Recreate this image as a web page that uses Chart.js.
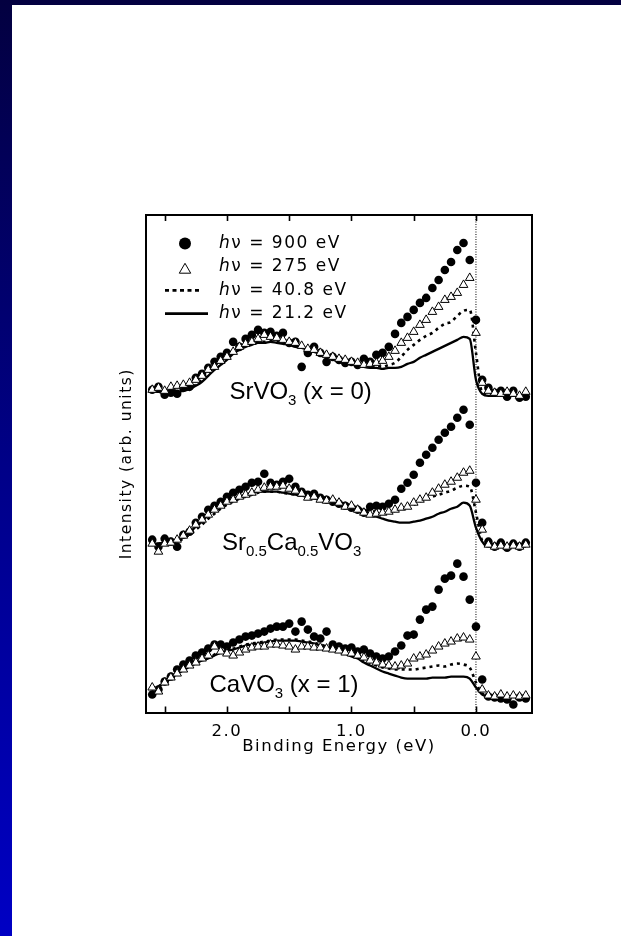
<!DOCTYPE html>
<html>
<head>
<meta charset="utf-8">
<script src="https://cdn.jsdelivr.net/npm/chart.js@4.4.1/dist/chart.umd.min.js"></script>
<style>
  html, body { margin: 0; padding: 0; }
  body {
    width: 621px; height: 936px; position: relative; overflow: hidden;
    background: linear-gradient(to bottom, #030040 0%, #000088 50%, #0000c4 100%);
  }
  #sheet { position: absolute; left: 12px; top: 5px; right: 0; bottom: 0; background: #fff; }
  #spectra { position: absolute; left: 0; top: 0; }
</style>
</head>
<body>
<div id="sheet"></div>
<canvas id="spectra" width="621" height="936"></canvas>
<script>
// binding energy grid (eV), shared by every spectrum
var energy = [
  2.60, 2.55, 2.50, 2.45, 2.40, 2.35, 2.30, 2.25, 2.20, 2.15,
  2.10, 2.05, 2.00, 1.95, 1.90, 1.85, 1.80, 1.75, 1.70, 1.65,
  1.60, 1.55, 1.50, 1.45, 1.40, 1.35, 1.30, 1.25, 1.20, 1.15,
  1.10, 1.05, 1.00, 0.95, 0.90, 0.85, 0.80, 0.75, 0.70, 0.65,
  0.60, 0.55, 0.50, 0.45, 0.40, 0.35, 0.30, 0.25, 0.20, 0.15,
  0.10, 0.05, 0.00, -0.05, -0.10, -0.15, -0.20, -0.25, -0.30, -0.35,
  -0.40
];

// SrVO3 (x = 0), offset already included
var sr_900 = [
  32.3, 32.6, 31.8, 32.0, 31.9, 32.5, 32.6, 33.5, 33.9, 34.5,
  35.1, 35.6, 36.0, 37.1, 36.6, 37.4, 37.8, 38.3, 38.0, 38.1,
  37.7, 38.0, 37.0, 37.1, 34.6, 36.0, 36.6, 36.0, 35.1, 35.6,
  35.3, 35.0, 35.1, 34.8, 35.4, 35.1, 35.8, 36.0, 36.6, 37.9,
  39.0, 39.6, 40.3, 41.0, 41.5, 42.5, 43.3, 44.3, 45.1, 46.3,
  47.0, 45.3, 39.3, 33.3, 32.5, 32.0, 32.2, 31.6, 32.2, 31.5,
  31.6
];
var sr_275 = [
  32.3, 32.5, 32.2, 32.6, 32.7, 32.8, 33.0, 33.3, 33.7, 34.3,
  34.6, 35.2, 35.6, 36.1, 36.6, 36.9, 37.1, 37.4, 37.8, 37.6,
  37.5, 37.3, 37.1, 37.0, 36.7, 36.4, 36.3, 36.0, 35.8, 35.6,
  35.4, 35.3, 35.1, 35.0, 34.8, 34.9, 35.0, 35.2, 35.6, 36.2,
  37.0, 37.5, 38.1, 38.8, 39.3, 40.1, 40.6, 41.3, 41.6, 42.0,
  42.8, 43.5, 38.0, 33.0, 32.2, 32.0, 31.9, 32.1, 31.9, 31.7,
  32.1
];
var sr_408 = [
  32.2, 32.2, 32.1, 32.2, 32.2, 32.3, 32.5, 32.8, 33.3, 33.9,
  34.5, 35.0, 35.5, 36.0, 36.4, 36.7, 36.9, 37.1, 37.1, 37.2,
  37.1, 37.0, 36.9, 36.7, 36.6, 36.4, 36.2, 36.0, 35.8, 35.6,
  35.4, 35.2, 35.0, 34.9, 34.8, 34.7, 34.7, 34.6, 34.8, 35.0,
  35.6, 36.3, 36.8, 37.3, 37.7, 38.0, 38.5, 38.9, 39.1, 39.7,
  40.2, 40.3, 36.0, 32.0, 31.8, 31.8, 31.8, 31.8, 31.8, 31.8,
  31.8
];
var sr_212 = [
  32.1, 32.1, 32.0, 32.1, 32.1, 32.2, 32.4, 32.7, 33.1, 33.7,
  34.3, 34.8, 35.3, 35.9, 36.3, 36.6, 36.8, 37.0, 37.0, 37.1,
  37.0, 36.9, 36.8, 36.6, 36.5, 36.3, 36.1, 35.9, 35.7, 35.5,
  35.3, 35.1, 34.9, 34.8, 34.6, 34.5, 34.5, 34.4, 34.5, 34.5,
  34.6, 34.9, 35.1, 35.5, 35.8, 36.1, 36.4, 36.7, 37.0, 37.3,
  37.6, 37.4, 33.3, 31.9, 31.7, 31.7, 31.7, 31.7, 31.7, 31.7,
  31.7
];

// Sr0.5Ca0.5VO3
var mix_900 = [
  17.3, 16.6, 17.4, 17.1, 16.6, 17.8, 18.1, 19.0, 19.6, 20.3,
  20.7, 21.1, 21.6, 22.0, 22.3, 22.6, 23.0, 23.1, 23.9, 23.0,
  22.8, 23.1, 23.4, 22.6, 22.1, 21.8, 21.9, 21.5, 21.3, 21.1,
  20.9, 20.7, 20.5, 20.3, 20.0, 20.6, 20.7, 20.6, 20.9, 21.3,
  22.4, 23.0, 23.8, 25.0, 25.8, 26.5, 27.3, 28.0, 28.6, 29.5,
  30.3, 28.8, 23.0, 19.0, 17.1, 16.6, 17.0, 16.5, 16.9, 16.6,
  17.0
];
var mix_275 = [
  16.9, 16.1, 16.9, 17.0, 17.3, 17.7, 18.2, 18.8, 19.3, 19.8,
  20.3, 20.7, 21.1, 21.3, 21.6, 21.8, 22.0, 22.3, 22.5, 22.6,
  22.6, 22.7, 22.4, 22.2, 21.9, 21.5, 21.6, 21.3, 21.2, 21.3,
  21.0, 20.6, 20.7, 20.3, 20.0, 19.8, 19.9, 20.0, 20.1, 20.3,
  20.5, 20.6, 21.0, 21.3, 21.5, 22.0, 22.4, 22.8, 23.1, 23.5,
  24.0, 24.2, 21.3, 18.3, 16.8, 16.6, 16.7, 16.6, 16.7, 16.6,
  16.8
];
var mix_408 = [
  16.9, 16.9, 17.0, 17.0, 17.1, 17.4, 17.8, 18.3, 18.8, 19.4,
  19.9, 20.4, 20.8, 21.1, 21.4, 21.6, 21.8, 22.0, 22.1, 22.1,
  22.1, 22.0, 21.9, 21.8, 21.7, 21.6, 21.5, 21.4, 21.3, 21.2,
  21.0, 20.9, 20.7, 20.5, 20.3, 20.2, 20.1, 20.0, 20.0, 20.2,
  20.4, 20.6, 20.8, 21.1, 21.4, 21.6, 21.8, 22.0, 22.2, 22.5,
  22.7, 22.6, 20.0, 17.2, 16.7, 16.6, 16.6, 16.6, 16.6, 16.6,
  16.6
];
var mix_212 = [
  16.9, 16.9, 17.0, 17.0, 17.2, 17.6, 18.0, 18.6, 19.1, 19.8,
  20.4, 20.8, 21.1, 21.4, 21.6, 21.8, 22.0, 22.1, 22.1, 22.1,
  22.1, 22.0, 21.9, 21.8, 21.7, 21.6, 21.4, 21.3, 21.2, 21.0,
  20.9, 20.7, 20.5, 20.3, 20.0, 19.7, 19.6, 19.4, 19.2, 19.1,
  19.0, 19.0, 19.1, 19.2, 19.4, 19.6, 19.9, 20.1, 20.4, 20.6,
  21.0, 20.7, 18.5, 17.1, 16.6, 16.6, 16.6, 16.6, 16.6, 16.6,
  16.6
];

// CaVO3 (x = 1)
var ca_900 = [
  1.8, 2.3, 3.1, 3.6, 4.3, 4.8, 5.2, 5.7, 6.0, 6.4,
  6.8, 6.8, 6.6, 7.0, 7.3, 7.6, 7.7, 7.9, 8.1, 8.4,
  8.6, 8.6, 8.9, 8.1, 9.1, 8.3, 7.6, 7.4, 8.1, 6.8,
  6.6, 6.4, 6.5, 6.1, 6.3, 5.9, 5.6, 5.4, 5.6, 6.1,
  6.7, 7.7, 7.8, 9.3, 10.3, 10.6, 12.3, 13.4, 13.7, 14.9,
  13.6, 11.3, 8.6, 3.3, 1.6, 1.5, 1.4, 1.3, 0.8, 1.5,
  1.4
];
var ca_275 = [
  2.5, 2.1, 3.0, 3.5, 3.9, 4.3, 4.7, 5.0, 5.4, 5.7,
  6.6, 6.1, 5.9, 5.7, 6.0, 6.3, 6.5, 6.6, 6.6, 6.8,
  6.8, 6.7, 6.6, 6.3, 6.6, 6.6, 6.5, 6.5, 6.4, 6.3,
  6.2, 6.0, 5.9, 5.7, 5.5, 5.2, 5.0, 4.8, 4.7, 4.6,
  4.7, 4.9, 5.4, 5.6, 5.8, 6.2, 6.6, 6.9, 7.1, 7.4,
  7.5, 7.3, 5.6, 2.3, 1.7, 1.6, 1.8, 1.6, 1.7, 1.6,
  1.7
];
var ca_408 = [
  2.3, 2.6, 3.0, 3.4, 3.9, 4.3, 4.7, 5.0, 5.3, 5.5,
  5.8, 6.1, 6.3, 6.4, 6.6, 6.8, 6.9, 7.0, 7.1, 7.2,
  7.3, 7.3, 7.3, 7.3, 7.2, 7.1, 7.0, 6.8, 6.6, 6.4,
  6.2, 6.0, 5.8, 5.6, 5.3, 5.0, 4.7, 4.5, 4.4, 4.3,
  4.3, 4.3, 4.3, 4.4, 4.5, 4.6, 4.7, 4.6, 4.8, 4.9,
  4.8, 4.5, 3.0, 1.9, 1.7, 1.6, 1.6, 1.6, 1.6, 1.6,
  1.6
];
var ca_212 = [
  2.3, 2.6, 3.0, 3.4, 3.9, 4.2, 4.6, 4.9, 5.2, 5.4,
  5.7, 6.0, 6.2, 6.3, 6.5, 6.7, 6.8, 6.9, 7.0, 7.1,
  7.2, 7.2, 7.2, 7.2, 7.1, 7.0, 6.9, 6.7, 6.5, 6.3,
  6.1, 5.9, 5.6, 5.4, 5.0, 4.7, 4.4, 4.1, 3.9, 3.7,
  3.5, 3.4, 3.4, 3.4, 3.4, 3.5, 3.5, 3.5, 3.6, 3.6,
  3.6, 3.4, 2.5, 1.8, 1.6, 1.6, 1.6, 1.6, 1.6, 1.6,
  1.6
];

var photonLabels = ['900 eV', '275 eV', '40.8 eV', '21.2 eV'];
var tickFont = { family: 'DejaVu Sans', size: 16.5, lineHeight: 1 };

function pts(vals) {
  return energy.map(function(e, i) { return { x: e, y: vals[i] }; });
}

var spectra = [
  [sr_900, sr_275, sr_408, sr_212],
  [mix_900, mix_275, mix_408, mix_212],
  [ca_900, ca_275, ca_408, ca_212]
];

var datasets = [];
spectra.forEach(function(s) {
  // 900 eV: filled circles
  datasets.push({
    data: pts(s[0]), showLine: false, order: 2,
    pointStyle: 'circle', pointRadius: 4.3, pointBorderWidth: 0,
    pointBackgroundColor: '#000'
  });
  // 275 eV: open triangles
  datasets.push({
    data: pts(s[1]), showLine: false, order: 1,
    pointStyle: 'triangle', pointRadius: 5, pointBorderWidth: 1,
    pointBorderColor: '#000', pointBackgroundColor: '#fff'
  });
  // 40.8 eV: dotted line
  datasets.push({
    data: pts(s[2]), order: 3, pointRadius: 0,
    borderColor: '#000', borderWidth: 2.6, borderDash: [3, 4],
    cubicInterpolationMode: 'monotone'
  });
  // 21.2 eV: solid line
  datasets.push({
    data: pts(s[3]), order: 4, pointRadius: 0,
    borderColor: '#000', borderWidth: 2.3,
    cubicInterpolationMode: 'monotone'
  });
});

// Fermi level marker
datasets.push({
  data: [{ x: 0, y: 0 }, { x: 0, y: 49.8 }], order: 5, pointRadius: 0,
  borderColor: '#000', borderWidth: 1, borderDash: [1, 1.5]
});

// sample names placed in data coordinates; second item = subscript
var sampleNames = [
  { e: 1.98, y: 31.4, runs: [['SrVO', 0], ['3', 1], [' (x = 0)', 0]] },
  { e: 2.04, y: 16.3, runs: [['Sr', 0], ['0.5', 1], ['Ca', 0], ['0.5', 1], ['VO', 0], ['3', 1]] },
  { e: 2.14, y: 2.1, runs: [['CaVO', 0], ['3', 1], [' (x = 1)', 0]] }
];

var wideText = {
  id: 'wideText',
  beforeDraw: function(chart) {
    chart.ctx.letterSpacing = '1.5px';
  }
};

var inwardTicks = {
  id: 'inwardTicks',
  afterDatasetsDraw: function(chart) {
    var ctx = chart.ctx, area = chart.chartArea, sx = chart.scales.x;
    ctx.save();
    ctx.strokeStyle = '#000';
    ctx.lineWidth = 1.6;
    sx.ticks.forEach(function(t) {
      var px = Math.round(sx.getPixelForValue(t.value)) + 0.5;
      ctx.beginPath();
      ctx.moveTo(px, area.bottom);
      ctx.lineTo(px, area.bottom - 6);
      ctx.moveTo(px, area.top);
      ctx.lineTo(px, area.top + 6);
      ctx.stroke();
    });
    ctx.restore();
  }
};

var names = {
  id: 'names',
  afterDraw: function(chart) {
    var ctx = chart.ctx, sx = chart.scales.x, sy = chart.scales.y;
    ctx.save();
    ctx.letterSpacing = '0px';
    ctx.fillStyle = '#000';
    ctx.textBaseline = 'alphabetic';
    ctx.textAlign = 'left';
    sampleNames.forEach(function(n) {
      var x = sx.getPixelForValue(n.e), y = sy.getPixelForValue(n.y);
      n.runs.forEach(function(r) {
        ctx.font = r[1] ? '15px "Liberation Sans", Arial' : '24px "Liberation Sans", Arial';
        ctx.fillText(r[0], x, r[1] ? y + 6.5 : y);
        x += ctx.measureText(r[0]).width;
      });
    });
    ctx.restore();
  }
};

var key = {
  id: 'key',
  afterDraw: function(chart) {
    var ctx = chart.ctx, a = chart.chartArea;
    var mx = a.left + 39, tx = a.left + 73;
    ctx.save();
    ctx.fillStyle = '#000';
    ctx.strokeStyle = '#000';
    photonLabels.forEach(function(lbl, i) {
      var y = a.top + 28.5 + i * 23.4;
      ctx.setLineDash([]);
      if (i === 0) {
        ctx.beginPath();
        ctx.arc(mx, y, 6, 0, Math.PI * 2);
        ctx.fill();
      } else if (i === 1) {
        var r = 6.6, cy = y + 3;
        ctx.lineWidth = 1;
        ctx.beginPath();
        ctx.moveTo(mx, cy - r);
        ctx.lineTo(mx + r * 0.866, cy + r / 2);
        ctx.lineTo(mx - r * 0.866, cy + r / 2);
        ctx.closePath();
        ctx.stroke();
      } else {
        ctx.lineWidth = 2.8;
        if (i === 2) ctx.setLineDash([4, 3.5]);
        ctx.beginPath();
        ctx.moveTo(a.left + 19, y);
        ctx.lineTo(a.left + (i === 2 ? 55 : 62), y);
        ctx.stroke();
      }
      ctx.letterSpacing = '1.5px';
      ctx.textBaseline = 'middle';
      ctx.font = 'oblique 17px "DejaVu Sans"';
      ctx.fillText('h', tx, y);
      var w = ctx.measureText('h').width;
      ctx.font = '17px "DejaVu Sans"';
      ctx.fillText('\u03bd = ' + lbl, tx + w, y);
    });
    ctx.restore();
  }
};

var axisBorder = { display: true, color: '#000', width: 2 };
var hiddenGrid = { drawOnChartArea: false, drawTicks: false };

new Chart(document.getElementById('spectra'), {
  type: 'line',
  data: { datasets: datasets },
  plugins: [wideText, inwardTicks, names, key],
  options: {
    responsive: false,
    animation: false,
    layout: { padding: { left: 117.4, right: 89, top: 215, bottom: 181.5 } },
    plugins: { legend: { display: false }, tooltip: { enabled: false } },
    scales: {
      x: {
        type: 'linear', position: 'bottom', reverse: true, min: -0.45, max: 2.65,
        grid: hiddenGrid, border: axisBorder,
        ticks: {
          stepSize: 0.5, includeBounds: false, autoSkip: false, maxRotation: 0,
          padding: 10.5, color: '#000', font: tickFont,
          callback: function(v) { return Number.isInteger(v) ? v.toFixed(1) : ''; }
        },
        title: {
          display: true, text: 'Binding Energy (eV)', color: '#000',
          font: tickFont, padding: { top: -12, bottom: 0 }
        }
      },
      xTop: {
        type: 'linear', position: 'top', reverse: true, min: -0.45, max: 2.65,
        grid: hiddenGrid, border: axisBorder, ticks: { display: false }
      },
      y: {
        type: 'linear', position: 'left', min: 0, max: 49.8,
        grid: hiddenGrid, border: axisBorder, ticks: { display: false },
        title: {
          display: true, text: 'Intensity (arb. units)', color: '#000',
          font: { family: 'DejaVu Sans', size: 15.5, lineHeight: 1.2 },
          padding: { top: 0, bottom: 10 }
        }
      },
      yRight: {
        type: 'linear', position: 'right', min: 0, max: 49.8,
        grid: hiddenGrid, border: axisBorder, ticks: { display: false }
      }
    }
  }
});
</script>
</body>
</html>
